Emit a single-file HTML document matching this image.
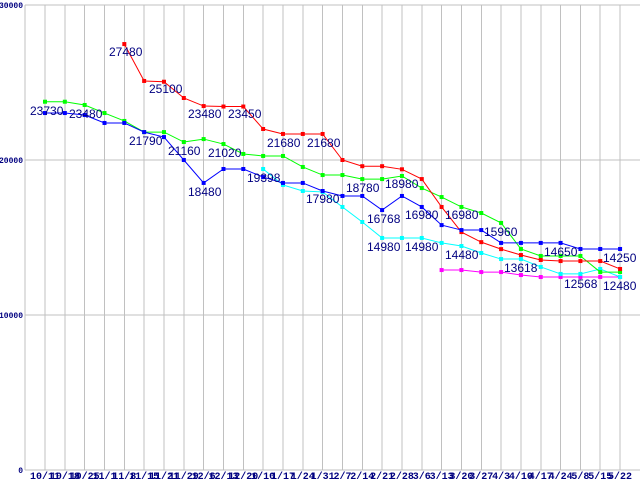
<!DOCTYPE html>
<html><head><meta charset="utf-8"><style>
html,body{margin:0;padding:0;background:#fff;}
svg{display:block;}
</style></head><body>
<svg id="chart" width="640" height="480" xmlns="http://www.w3.org/2000/svg"></svg>
<script>
const categories=["10/11","10/18","10/25","11/1","11/8","11/15","11/21","11/29","12/6","12/13","12/20","1/10","1/17","1/24","1/31","2/7","2/14","2/21","2/28","3/6","3/13","3/20","3/27","4/3","4/10","4/17","4/24","5/8","5/15","5/22"];
const redValues=[null,null,null,null,27480,25100,25050,24000,23480,23450,23450,22000,21680,21680,21680,20000,19600,19600,19400,18770,16970,15350,14700,14250,13870,13550,13480,13480,13480,12970];
const greenValues=[23760,23760,23550,23030,22520,21800,21800,21160,21350,21030,20390,20260,20260,19550,19030,19030,18770,18770,18970,18190,17610,16970,16580,15940,14260,13810,13810,13810,12770,12770];
const blueValues=[23030,23030,22900,22390,22390,21800,21480,20000,18520,19420,19420,18900,18520,18520,18000,17680,17680,16770,17680,16970,15800,15480,15480,14650,14650,14650,14650,14260,14260,14260];
const cyanValues=[null,null,null,null,null,null,null,null,null,null,null,19420,18390,18000,17940,16970,16000,14970,14970,14970,14650,14450,14000,13610,13610,13100,12650,12650,12970,12450];
const magentaValues=[null,null,null,null,null,null,null,null,null,null,null,null,null,null,null,null,null,null,null,null,12900,12900,12770,12770,12580,12450,12450,12450,12450,12450];
const yTicks=[0,10000,20000,30000];
const annotations=[["27480",109,52],["25100",149,89],["23480",188,114],["23450",228,114],["21680",267,143],["21680",307,143],["23730",30,111],["23480",69,114],["21790",129,141],["21160",168,151],["21020",208,153],["18480",188,192],["19398",247,178],["17980",306,199],["18780",346,188],["18980",385,184],["16768",367,219],["16980",405,215],["16980",445,215],["15960",484,232],["14980",367,247],["14980",405,247],["14480",445,255],["13618",504,268],["14650",544,252],["14250",603,258],["12568",564,284],["12480",603,286]];
const NS="http://www.w3.org/2000/svg";
const svg=document.getElementById('chart');
const X0=45,DX=19.83,AX=25;
function xPos(i){return X0+i*DX;}
function yPos(v){return 470-v*0.0155;}
function mk(t,a){const e=document.createElementNS(NS,t);for(const k in a)e.setAttribute(k,a[k]);svg.appendChild(e);return e;}
yTicks.forEach(t=>{
  const l=mk('line',{x1:AX,x2:640,y1:yPos(t),y2:yPos(t),stroke:'#c0c0c0','stroke-width':1,'shape-rendering':'crispEdges'});
  
  
  const tx=mk('text',{x:AX-2,y:yPos(t)+3,'text-anchor':'end','font-family':'Liberation Mono, monospace','font-size':8,'font-weight':'bold',fill:'#000080'});
  tx.textContent=t;
  
  
});
categories.forEach((c,i)=>{
  const l=mk('line',{x1:xPos(i),x2:xPos(i),y1:5,y2:470,stroke:'#c0c0c0','stroke-width':1,'shape-rendering':'crispEdges'});
  
  
  const tx=mk('text',{x:xPos(i),y:479,'text-anchor':'middle','font-family':'Liberation Mono, monospace','font-size':10,'font-weight':'bold',fill:'#000080'});
  tx.textContent=c;
  
  
});
const ax=mk('line',{x1:AX,x2:AX,y1:5,y2:470,stroke:'#c0c0c0','stroke-width':1,'shape-rendering':'crispEdges'});


function series(vals,color,name){
  let d='';
  vals.forEach((v,i)=>{if(v==null)return;d+=(d?'L':'M')+xPos(i)+' '+yPos(v);});
  const p=mk('path',{d:d,fill:'none',stroke:color,'stroke-width':1});
  
  
  vals.forEach((v,i)=>{if(v==null)return;
    const r=mk('rect',{x:xPos(i)-2,y:yPos(v)-2,width:4,height:4,fill:color});
    
    
  });
}
series(magentaValues,'#ff00ff','magenta-series');
series(cyanValues,'#00ffff','cyan-series');
series(greenValues,'#00ff00','green-series');
series(redValues,'#ff0000','red-series');
series(blueValues,'#0000ff','blue-series');
annotations.forEach(a=>{
  const t=mk('text',{x:a[1],y:a[2]+4,'font-family':'Liberation Sans, sans-serif','font-size':12,fill:'#000080'});
  t.textContent=a[0];
  
  
});
</script>
</body></html>
